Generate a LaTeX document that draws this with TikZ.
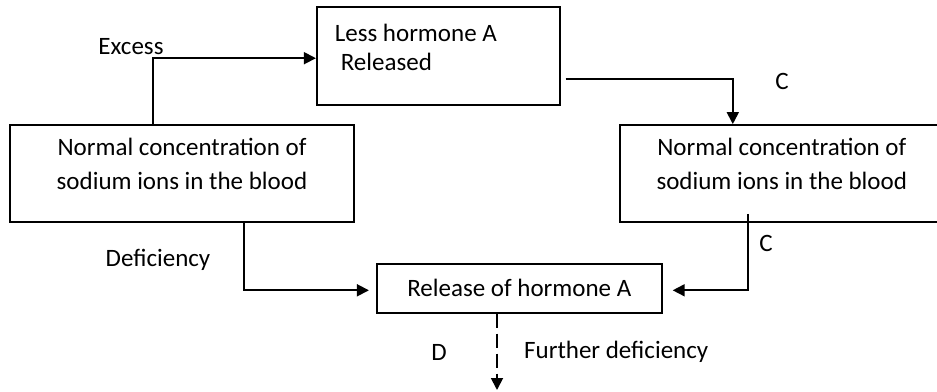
\documentclass[tikz,border=0pt]{standalone}
\usepackage{fontspec}
\setmainfont{Carlito}
\usetikzlibrary{positioning, arrows.meta}
\tikzset{
    bigbox/.style={draw, line width=1.8pt, minimum width=344pt, minimum height=97pt, inner sep=0pt, align=center, font=\fontsize{25}{34}\selectfont},
    topbox/.style={draw, line width=1.8pt, minimum width=243pt, minimum height=98pt, inner xsep=18pt, text width=207pt, align=flush left, font=\fontsize{25}{29}\selectfont},
    smallbox/.style={draw, line width=1.8pt, minimum width=285pt, minimum height=49pt, font=\fontsize{25}{29}\selectfont},
    tag/.style={inner sep=0pt, font=\fontsize{25}{29}\selectfont},
    link/.style={line width=1.8pt, -{Triangle[length=12pt, width=12pt]}}
}
\begin{document}
\begin{tikzpicture}[x=1pt, y=1pt, node distance=1cm]
	\useasboundingbox (0,0) rectangle (937,-391);
	\node(NormLeft)[bigbox] at (182,-173.5) {Normal concentration of\\sodium ions in the blood\\[-14pt]\mbox{}};
	\node(NormRight)[bigbox, minimum width=324pt, right=264pt of NormLeft] {Normal concentration of\\sodium ions in the blood\\[-14pt]\mbox{}};
	\node(Less)[topbox, above right=18pt and -39pt of NormLeft.north east] {Less hormone A\\\hspace*{6pt}Released\\[-12pt]\mbox{}};
	\node(Rel)[smallbox, below right=40pt and 21pt of NormLeft.south east] {Release of hormone A};
	\coordinate(End) at (497,-390);
	\draw[link]([xshift=-29pt]NormLeft.north) |- ([yshift=-2pt]Less.west);
	\draw[link]([shift={(5pt,-23pt)}]Less.east) -| ([xshift=-49pt]NormRight.north);
	\draw[link]([shift={(-34pt,9pt)}]NormRight.south) |- ([shift={(10pt,-2pt)}]Rel.east);
	\draw[link]([xshift=62pt]NormLeft.south) |- ([shift={(-7pt,-2pt)}]Rel.west);
	\draw[link, dash pattern=on 14pt off 6pt](Rel.south -| End) -- (End);
	% labels
	\node(Excess)[tag] at (131,-47) {Excess};
	\node(CTop)[tag] at (782,-81) {C};
	\node(Defic)[tag] at (158,-260) {Deficiency};
	\node(CLow)[tag] at (766,-243) {C};
	\node(D)[tag] at (439,-352) {D};
	\node(Further)[tag, anchor=west] at (524,-352) {Further deficiency};
\end{tikzpicture}
\end{document}
